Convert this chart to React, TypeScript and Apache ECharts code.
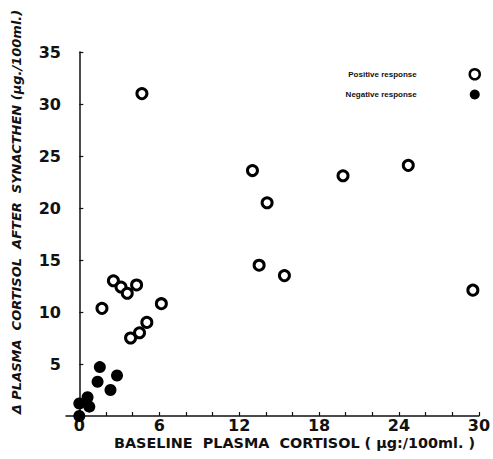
import React, { useEffect, useRef } from "react";
import * as echarts from "echarts";

const positiveX = [4.7, 13.0, 14.1, 19.8, 24.7, 29.55, 13.5, 15.4, 1.7, 2.56, 3.13, 3.6, 4.3, 6.16, 3.85, 4.52, 5.07];
const positiveY = [31.0, 23.6, 20.5, 23.1, 24.1, 12.1, 14.5, 13.5, 10.35, 13.0, 12.4, 11.8, 12.6, 10.8, 7.5, 8.0, 9.0];
const negativeX = [0, 0, 0.62, 0.75, 1.54, 1.37, 2.34, 2.83];
const negativeY = [0, 1.2, 1.8, 0.9, 4.7, 3.3, 2.5, 3.9];
const xTickValues = [2, 4, 6, 8, 10, 12, 14, 16, 18, 20, 22, 24, 26, 28, 30];
const xLabelValues = [0, 6, 12, 18, 24, 30];
const yLabelValues = [5, 10, 15, 20, 25, 30, 35];
const seriesNames = ["Positive response", "Negative response"];
const xTitle = "BASELINE  PLASMA  CORTISOL ( µg:/100ml. )";
const yTitle = "Δ PLASMA  CORTISOL  AFTER  SYNACTHEN (µg./100ml.)";

export default function App() {
  const ref = useRef<HTMLDivElement>(null);
  useEffect(() => {
    if (!ref.current) return;
    const chart = echarts.init(ref.current, null, { renderer: "svg" });
    const labelFont = {
      color: "#111",
      fontFamily: "DejaVu Sans",
      fontWeight: "bold" as const,
      fontSize: 16,
    };
    chart.setOption({
      animation: false,
      backgroundColor: "#fff",
      grid: { left: 66, right: 10, top: 52, bottom: 43 },
      xAxis: {
        type: "value",
        min: -1,
        max: 30,
        splitLine: { show: false },
        axisLine: { lineStyle: { color: "#111", width: 1.5 } },
        axisTick: { show: true, inside: true, length: 4, customValues: xTickValues, lineStyle: { color: "#111", width: 1.2 } },
        axisLabel: { ...labelFont, margin: 1, customValues: xLabelValues },
      },
      yAxis: {
        type: "value",
        min: 0,
        max: 35,
        interval: 5,
        splitLine: { show: false },
        axisLine: { show: true, lineStyle: { color: "#111", width: 1.5 } },
        axisTick: { show: true, inside: true, length: 4, customValues: yLabelValues, lineStyle: { color: "#111", width: 1.2 } },
        axisLabel: { ...labelFont, margin: 5, customValues: yLabelValues },
      },
      legend: {
        orient: "vertical",
        right: 7,
        top: 63,
        align: "right",
        itemGap: 9,
        itemWidth: 10,
        itemHeight: 10,
        textStyle: {
          fontFamily: "Liberation Sans",
          fontWeight: "bold",
          fontSize: 8,
          color: "#111",
          padding: [0, 48, 0, 0],
        },
        data: [
          { name: seriesNames[0], icon: "circle", itemStyle: { color: "#fff", borderColor: "#000", borderWidth: 2.5 } },
          { name: seriesNames[1], icon: "circle", itemStyle: { color: "#000", borderWidth: 0 } },
        ],
      },
      graphic: [
        {
          type: "text",
          left: 114,
          top: 436,
          style: {
            text: xTitle,
            fontFamily: "DejaVu Sans",
            fontWeight: "bold",
            fontSize: 14.4,
            fill: "#111",
          },
        },
        {
          type: "text",
          x: 16,
          y: 212,
          rotation: Math.PI / 2,
          style: {
            text: yTitle,
            align: "center",
            verticalAlign: "middle",
            fontFamily: "DejaVu Sans",
            fontWeight: "bold",
            fontStyle: "italic",
            fontSize: 13,
            fill: "#111",
          },
        },
      ],
      series: [
        {
          name: seriesNames[0],
          type: "scatter",
          symbol: "circle",
          symbolSize: 10,
          itemStyle: { color: "#fff", borderColor: "#000", borderWidth: 3, opacity: 1 },
          data: positiveX.map((x, i) => [x, positiveY[i]]),
        },
        {
          name: seriesNames[1],
          type: "scatter",
          symbol: "circle",
          symbolSize: 12,
          itemStyle: { color: "#000", opacity: 1 },
          data: negativeX.map((x, i) => [x, negativeY[i]]),
        },
      ],
    });
    return () => chart.dispose();
  }, []);
  return <div ref={ref} style={{ width: 493, height: 459, position: "absolute", left: 0, top: 0 }} />;
}
